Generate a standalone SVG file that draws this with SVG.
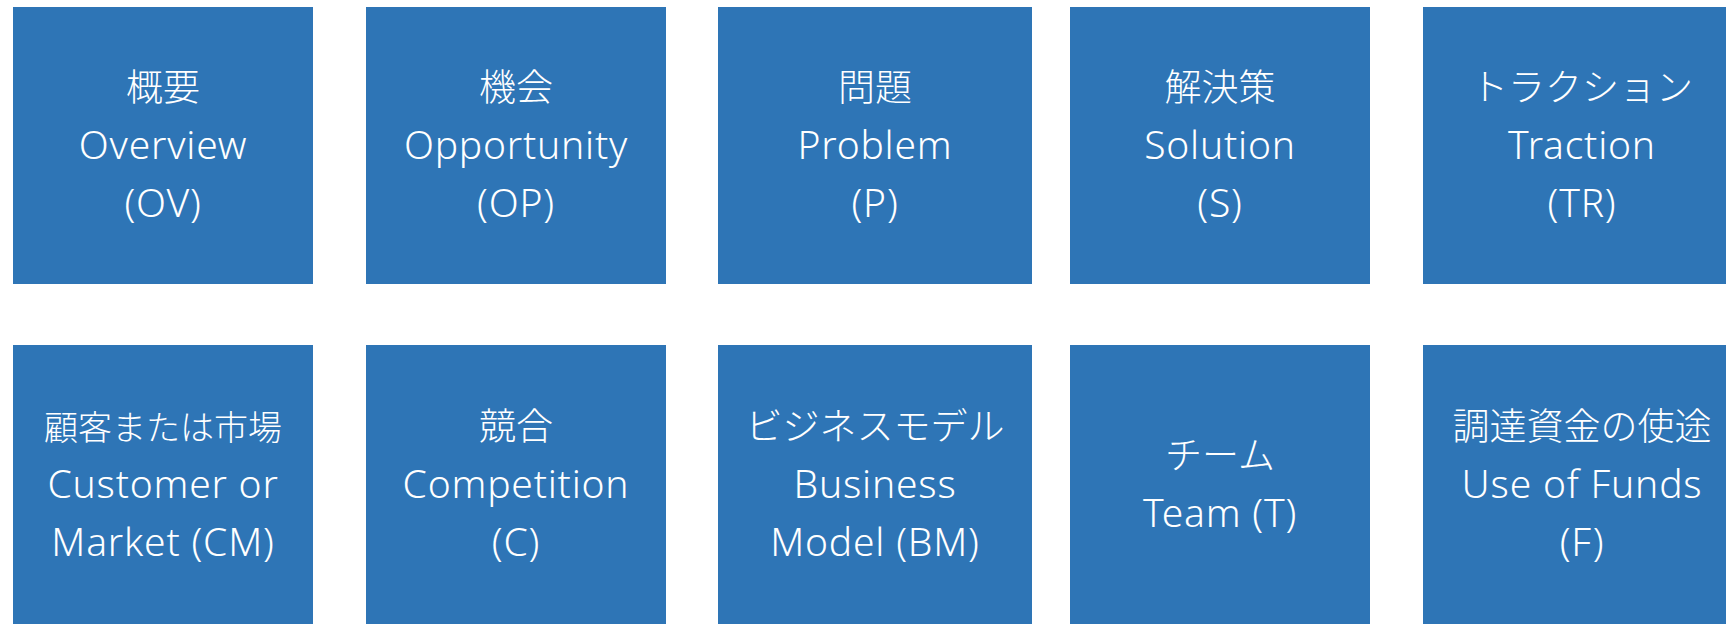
<svg xmlns="http://www.w3.org/2000/svg" width="1726" height="624" viewBox="0 0 1726 624">
<style>
.box{fill:#2E75B6}
text{fill:#fff;font-family:"Noto Sans","Noto Sans CJK JP",sans-serif;font-weight:300;font-size:39px;text-anchor:middle;letter-spacing:0.8px}
.j{font-family:"Noto Sans CJK JP",sans-serif;font-size:37px;letter-spacing:0}
</style>
<rect width="1726" height="624" fill="#fff"/>
<g id="ov"><rect class="box" x="13" y="7" width="300" height="277"/>
<text x="163" y="101" class="j">概要</text><text x="163" y="159">Overview</text><text x="163" y="217">(OV)</text></g>
<g id="op"><rect class="box" x="366" y="7" width="300" height="277"/>
<text x="516" y="101" class="j">機会</text><text x="516" y="159">Opportunity</text><text x="516" y="217">(OP)</text></g>
<g id="p"><rect class="box" x="718" y="7" width="314" height="277"/>
<text x="875" y="101" class="j">問題</text><text x="875" y="159">Problem</text><text x="875" y="217">(P)</text></g>
<g id="s"><rect class="box" x="1070" y="7" width="300" height="277"/>
<text x="1220" y="101" class="j">解決策</text><text x="1220" y="159">Solution</text><text x="1220" y="217">(S)</text></g>
<g id="tr"><rect class="box" x="1423" y="7" width="318" height="277"/>
<text x="1582" y="101" class="j">トラクション</text><text x="1582" y="159">Traction</text><text x="1582" y="217">(TR)</text></g>
<g id="cm"><rect class="box" x="13" y="345" width="300" height="290"/>
<text x="163" y="440" class="j" style="font-size:34px">顧客または市場</text><text x="163" y="498">Customer or</text><text x="163" y="556">Market (CM)</text></g>
<g id="c"><rect class="box" x="366" y="345" width="300" height="290"/>
<text x="516" y="440" class="j">競合</text><text x="516" y="498">Competition</text><text x="516" y="556">(C)</text></g>
<g id="bm"><rect class="box" x="718" y="345" width="314" height="290"/>
<text x="875" y="440" class="j">ビジネスモデル</text><text x="875" y="498">Business</text><text x="875" y="556">Model (BM)</text></g>
<g id="t"><rect class="box" x="1070" y="345" width="300" height="290"/>
<text x="1220" y="469" class="j">チーム</text><text x="1220" y="527">Team (T)</text></g>
<g id="f"><rect class="box" x="1423" y="345" width="318" height="290"/>
<text x="1582" y="440" class="j">調達資金の使途</text><text x="1582" y="498">Use of Funds</text><text x="1582" y="556">(F)</text></g>
</svg>
